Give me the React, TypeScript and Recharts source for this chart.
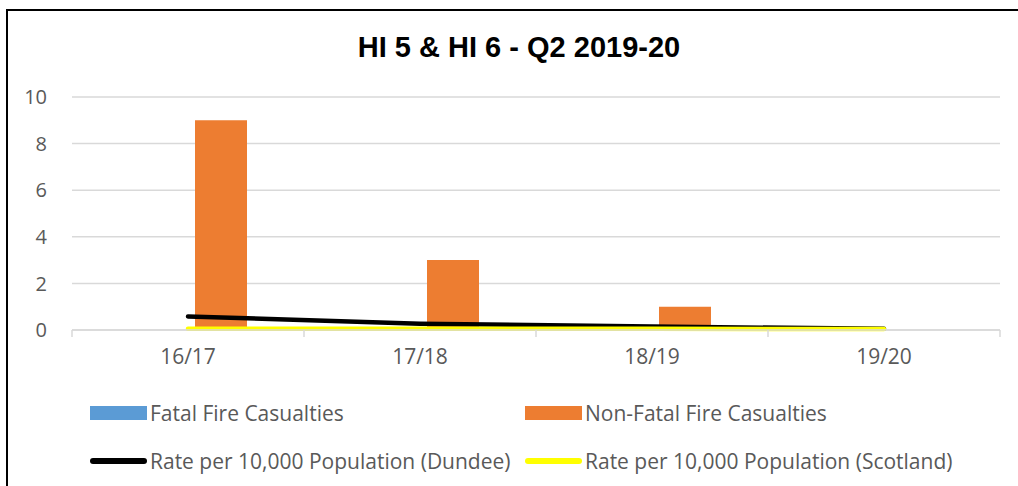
import React from 'react';
import {
    ComposedChart,
    Bar,
    Line,
    XAxis,
    YAxis,
    CartesianGrid,
} from 'recharts';

const years = ['16/17', '17/18', '18/19', '19/20'];
const fatal = [0, 0, 0, 0];
const nonFatal = [9, 3, 1, 0];
const rateDundee = [0.58, 0.27, 0.15, 0.05];
const rateScotland = [0.05, 0.05, 0.05, 0.04];
const yTicks = [0, 2, 4, 6, 8, 10];

const TITLE_FONT = '"Liberation Sans", Arial, sans-serif';
const FONT = '"Open Sans", sans-serif';
const GREY = '#595959';
const BLUE = '#5B9BD5';
const ORANGE = '#ED7D31';

const data = years.map((year, i) => ({
    year,
    fatal: fatal[i],
    nonFatal: nonFatal[i],
    dundee: rateDundee[i],
    scotland: rateScotland[i],
}));

const legendItems = [
    { label: 'Fatal Fire Casualties', color: BLUE, kind: 'rect', x: 90, y: 413 },
    { label: 'Non-Fatal Fire Casualties', color: ORANGE, kind: 'rect', x: 525, y: 413 },
    { label: 'Rate per 10,000 Population (Dundee)', color: '#000000', kind: 'line', x: 90, y: 461 },
    { label: 'Rate per 10,000 Population (Scotland)', color: '#FFFF00', kind: 'line', x: 525, y: 461 },
];

const YearTick = (props: any) => {
    const { x, y, payload, index, width, visibleTicksCount } = props;
    const bw = width && visibleTicksCount ? width / visibleTicksCount : 232;
    const last = index === (visibleTicksCount || years.length) - 1;
    return (
        <g>
            <line x1={x - bw / 2} y1={y} x2={x - bw / 2} y2={y + 7} stroke="#d9d9d9" strokeWidth={1.5} />
            {last && (
                <line x1={x + bw / 2} y1={y} x2={x + bw / 2} y2={y + 7} stroke="#d9d9d9" strokeWidth={1.5} />
            )}
            <text x={x} y={y + 34} textAnchor="middle" fill={GREY} fontSize={21} fontFamily={FONT}>
                {payload.value}
            </text>
        </g>
    );
};

export default function App() {
    return (
        <div
            style={{
                position: 'absolute',
                left: 0,
                top: 0,
                width: 1018,
                height: 486,
                overflow: 'hidden',
                background: '#fff',
                fontFamily: FONT,
            }}
        >
            <div
                style={{
                    position: 'absolute',
                    left: 6,
                    top: 9,
                    width: 1100,
                    height: 600,
                    border: '2px solid #000',
                }}
            />
            <div
                style={{
                    position: 'absolute',
                    left: 519,
                    top: 31,
                    transform: 'translateX(-50%)',
                    whiteSpace: 'nowrap',
                    fontFamily: TITLE_FONT,
                    fontSize: 29,
                    lineHeight: '32px',
                    fontWeight: 'bold',
                    color: '#000',
                }}
            >
                HI 5 &amp; HI 6 - Q2 2019-20
            </div>
            <div style={{ position: 'absolute', left: 0, top: 0 }}>
                <ComposedChart
                    width={1018}
                    height={486}
                    data={data}
                    margin={{ top: 97, right: 18, bottom: 116, left: 0 }}
                    barCategoryGap={57}
                    barGap={14}
                >
                    <CartesianGrid vertical={false} stroke="#d9d9d9" strokeWidth={1.5} />
                    <XAxis
                        dataKey="year"
                        height={40}
                        axisLine={{ stroke: '#d9d9d9', strokeWidth: 1.5 }}
                        tickLine={false}
                        tickSize={0}
                        tickMargin={0}
                        interval={0}
                        tick={<YearTick />}
                    />
                    <YAxis
                        width={72}
                        domain={[0, 10]}
                        ticks={yTicks}
                        axisLine={false}
                        tickLine={false}
                        tickSize={0}
                        tickMargin={25}
                        tick={{ fill: GREY, fontSize: 20, fontFamily: FONT }}
                    />
                    <Bar dataKey="fatal" fill={BLUE} isAnimationActive={false} />
                    <Bar dataKey="nonFatal" fill={ORANGE} isAnimationActive={false} />
                    <Line
                        dataKey="dundee"
                        stroke="#000000"
                        strokeWidth={4.5}
                        strokeLinecap="round"
                        dot={false}
                        activeDot={false}
                        isAnimationActive={false}
                    />
                    <Line
                        dataKey="scotland"
                        stroke="#FFFF00"
                        strokeWidth={4.5}
                        strokeLinecap="round"
                        dot={false}
                        activeDot={false}
                        isAnimationActive={false}
                    />
                </ComposedChart>
            </div>
            {legendItems.map((item) => (
                <div key={item.label}>
                    <div
                        style={{
                            position: 'absolute',
                            left: item.x,
                            top: item.kind === 'rect' ? item.y - 7 : item.y - 3,
                            width: 57,
                            height: item.kind === 'rect' ? 14 : 6,
                            borderRadius: item.kind === 'rect' ? 0 : 3,
                            background: item.color,
                        }}
                    />
                    <div
                        style={{
                            position: 'absolute',
                            left: item.x + 60,
                            top: item.y - 14,
                            fontSize: 21,
                            lineHeight: '28px',
                            color: GREY,
                            whiteSpace: 'nowrap',
                        }}
                    >
                        {item.label}
                    </div>
                </div>
            ))}
        </div>
    );
}
